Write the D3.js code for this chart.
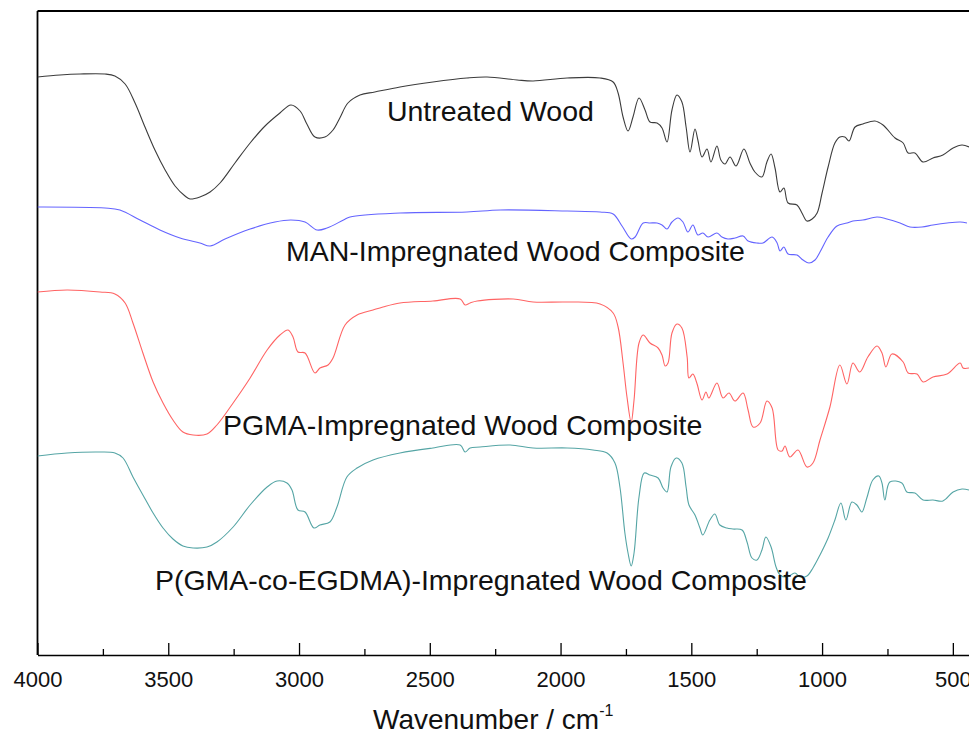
<!DOCTYPE html>
<html>
<head>
<meta charset="utf-8">
<script src="https://cdn.jsdelivr.net/npm/d3@7"></script>
<style>
  body { margin: 0; background: #fff; }
  svg { display: block; }
</style>
</head>
<body>
<script>
'use strict';

// wavenumbers (cm-1) and relative transmittance (a.u.)
const untreatedWn = [4000, 3914, 3837, 3742, 3704, 3665, 3627, 3589, 3551, 3512, 3474, 3436, 3417, 3379, 3340, 3302, 3245, 3187, 3130, 3073, 3031, 2996, 2970, 2939, 2901, 2870, 2844, 2813, 2767, 2710, 2614, 2488, 2358, 2281, 2166, 2105, 1975, 1849, 1799, 1780, 1761, 1742, 1723, 1700, 1677, 1658, 1631, 1612, 1593, 1574, 1555, 1536, 1520, 1505, 1486, 1475, 1459, 1440, 1425, 1402, 1387, 1371, 1352, 1329, 1299, 1276, 1257, 1230, 1211, 1195, 1180, 1161, 1146, 1130, 1096, 1077, 1058, 1038, 1019, 1000, 977, 951, 932, 913, 897, 874, 844, 798, 767, 721, 690, 671, 645, 614, 576, 538, 499, 465, 438];
const untreatedT = [578, 580, 581, 581, 579, 571, 552, 528, 505, 485, 469, 459, 456, 458, 463, 472, 492, 512, 529, 542, 550, 544, 531, 518, 518, 525, 537, 552, 560, 563, 568, 573, 577, 578, 575, 574, 577, 577, 573, 562, 538, 524, 538, 557, 545, 533, 532, 527, 513, 545, 560, 553, 528, 503, 526, 515, 498, 506, 493, 509, 495, 491, 498, 489, 506, 492, 483, 478, 493, 501, 487, 463, 467, 452, 450, 442, 434, 436, 442, 462, 488, 512, 518, 518, 514, 528, 531, 534, 530, 517, 512, 502, 502, 493, 497, 500, 507, 510, 508];

const manWn = [4000, 3742, 3685, 3608, 3532, 3455, 3379, 3340, 3283, 3187, 3092, 3031, 2977, 2931, 2893, 2830, 2805, 2614, 2358, 2231, 1975, 1849, 1799, 1765, 1730, 1715, 1684, 1658, 1631, 1612, 1593, 1574, 1551, 1532, 1513, 1494, 1475, 1456, 1436, 1402, 1383, 1360, 1333, 1302, 1283, 1249, 1226, 1191, 1172, 1161, 1146, 1130, 1096, 1073, 1050, 1027, 1008, 977, 943, 905, 882, 844, 790, 752, 702, 664, 618, 576, 522, 472, 446];
const manT = [448, 447, 445, 435, 425, 417, 412, 409, 416, 426, 433, 435, 433, 425, 427, 435, 438, 442, 443, 445, 444, 443, 441, 429, 416, 418, 432, 432, 432, 430, 426, 433, 437, 433, 423, 430, 420, 422, 418, 422, 418, 416, 417, 419, 414, 412, 412, 418, 412, 404, 408, 401, 400, 395, 392, 395, 403, 418, 429, 432, 434, 435, 438, 436, 432, 428, 428, 430, 432, 433, 432];

const pgmaWn = [4000, 3887, 3761, 3704, 3665, 3635, 3597, 3558, 3520, 3482, 3444, 3405, 3352, 3314, 3252, 3187, 3122, 3073, 3042, 3023, 3004, 2977, 2939, 2920, 2889, 2870, 2824, 2778, 2717, 2679, 2614, 2488, 2384, 2365, 2346, 2319, 2181, 2105, 1975, 1849, 1799, 1780, 1761, 1746, 1730, 1719, 1700, 1684, 1658, 1627, 1612, 1600, 1589, 1574, 1555, 1536, 1516, 1509, 1494, 1479, 1459, 1444, 1433, 1402, 1379, 1356, 1333, 1302, 1283, 1264, 1237, 1211, 1191, 1168, 1153, 1142, 1123, 1092, 1058, 1035, 1008, 970, 932, 905, 882, 856, 825, 790, 771, 756, 733, 690, 671, 637, 614, 576, 522, 472, 461, 438];
const pgmaT = [363, 365, 363, 361, 352, 332, 302, 273, 252, 235, 223, 220, 221, 230, 252, 277, 305, 320, 325, 318, 303, 302, 282, 287, 290, 297, 330, 340, 345, 348, 352, 354, 356, 350, 352, 354, 356, 353, 353, 351, 342, 328, 292, 258, 233, 255, 312, 320, 312, 307, 300, 289, 292, 322, 331, 327, 298, 277, 281, 272, 255, 263, 257, 272, 257, 262, 254, 262, 245, 228, 232, 254, 247, 205, 204, 209, 198, 205, 188, 192, 215, 248, 290, 271, 292, 283, 298, 309, 302, 288, 301, 293, 282, 281, 273, 278, 281, 292, 287, 287];

const copolyWn = [4000, 3887, 3761, 3704, 3673, 3635, 3597, 3558, 3520, 3482, 3444, 3405, 3352, 3314, 3252, 3187, 3122, 3084, 3046, 3027, 3004, 2977, 2943, 2920, 2882, 2855, 2817, 2778, 2717, 2614, 2488, 2384, 2365, 2346, 2308, 2193, 2105, 1975, 1876, 1822, 1792, 1773, 1754, 1742, 1730, 1719, 1700, 1680, 1658, 1627, 1608, 1593, 1578, 1558, 1536, 1520, 1509, 1486, 1467, 1456, 1429, 1410, 1391, 1364, 1341, 1306, 1287, 1268, 1249, 1230, 1215, 1195, 1176, 1161, 1134, 1104, 1084, 1058, 1035, 1008, 977, 951, 928, 909, 886, 867, 848, 829, 806, 783, 771, 760, 741, 695, 676, 645, 614, 576, 538, 499, 465, 438];
const copolyT = [199, 202, 203, 202, 197, 178, 160, 142, 127, 116, 109, 107, 108, 113, 128, 150, 168, 174, 172, 165, 145, 143, 127, 130, 133, 148, 178, 187, 195, 202, 207, 210, 203, 207, 208, 210, 207, 207, 205, 202, 192, 168, 122, 102, 89, 102, 158, 182, 180, 177, 167, 163, 188, 197, 192, 168, 150, 140, 127, 120, 135, 141, 130, 127, 126, 125, 113, 97, 95, 105, 118, 108, 88, 80, 78, 82, 78, 79, 87, 100, 117, 135, 152, 135, 153, 150, 143, 157, 175, 179, 172, 155, 173, 172, 163, 162, 155, 155, 154, 163, 166, 165];

const majorTicks = [4000, 3500, 3000, 2500, 2000, 1500, 1000, 500];
const minorTicks = [3750, 3250, 2750, 2250, 1750, 1250, 750];

const seriesNames = ['Untreated Wood', 'MAN-Impregnated Wood Composite', 'PGMA-Impregnated Wood Composite', 'P(GMA-co-EGDMA)-Impregnated Wood Composite'];
const seriesColors = ['#3c3c3c', '#6464ff', '#ff6464', '#55a5a5'];
const seriesWn = [untreatedWn, manWn, pgmaWn, copolyWn];
const seriesT = [untreatedT, manT, pgmaT, copolyT];

// label anchors: [wavenumber, transmittance] of each label's left baseline
const labelWn = [2664, 3050, 3291, 3551];
const labelT = [534, 394, 220, 65];

(function() {

  let svgContainer = '';

  const width = 969;
  const height = 734;
  const left = 37.5;
  const top = 11;
  const bottom = 655;
  const right = 979;
  const font = "'Liberation Sans', Arial, sans-serif";

  window.onload = function() {
    svgContainer = d3.select('body')
      .append('svg')
      .attr('width', width)
      .attr('height', height)
      .style('background', '#fff');

    let scales = drawAxes();
    plotSpectra(scales);
    makeLabels(scales);
  };

  // draw frame and bottom axis with inward ticks
  function drawAxes() {
    let xScale = d3.scaleLinear()
      .domain([4000, 400])
      .range([left, right]);

    let yScale = d3.scaleLinear()
      .domain([0, bottom - top])
      .range([bottom, top]);

    // minor ticks, no labels
    svgContainer.append('g')
      .attr('transform', 'translate(0,' + bottom + ')')
      .call(d3.axisBottom(xScale).tickValues(minorTicks).tickSize(-6).tickFormat(''))
      .call(g => g.select('.domain').remove())
      .selectAll('line').attr('stroke-width', 1.3);

    let xAxis = d3.axisBottom(xScale)
      .tickValues(majorTicks)
      .tickFormat(d3.format('d'))
      .tickSizeInner(-12)
      .tickSizeOuter(0)
      .tickPadding(16);

    let axisG = svgContainer.append('g')
      .attr('transform', 'translate(0,' + bottom + ')')
      .call(xAxis);
    axisG.select('.domain').attr('stroke-width', 1.6);
    axisG.selectAll('line').attr('stroke-width', 1.3);
    axisG.selectAll('text')
      .style('font-family', font)
      .style('font-size', '22px')
      .attr('fill', '#111');

    // left and top border
    svgContainer.append('line')
      .attr('x1', left).attr('x2', left)
      .attr('y1', top).attr('y2', bottom)
      .attr('stroke', '#000').attr('stroke-width', 1.8);
    svgContainer.append('line')
      .attr('x1', left).attr('x2', right)
      .attr('y1', top).attr('y2', top)
      .attr('stroke', '#000').attr('stroke-width', 1.8);

    // axis title
    let title = svgContainer.append('text')
      .attr('x', 373)
      .attr('y', 729)
      .style('font-family', font)
      .style('font-size', '28px')
      .attr('fill', '#111')
      .text('Wavenumber / cm');
    title.append('tspan')
      .attr('dy', -13)
      .style('font-size', '16px')
      .text('-1');

    return { x: xScale, y: yScale };
  }

  // one line per spectrum
  function plotSpectra(scales) {
    svgContainer.append('clipPath')
      .attr('id', 'plotClip')
      .append('rect')
      .attr('x', left).attr('y', top)
      .attr('width', right - left).attr('height', bottom - top);

    let line = d3.line()
      .x(d => scales.x(d[0]))
      .y(d => scales.y(d[1]))
      .curve(d3.curveCatmullRom.alpha(0.5));

    let spectra = seriesWn.map((wn, i) => wn.map((w, j) => [w, seriesT[i][j]]));

    svgContainer.append('g')
      .attr('clip-path', 'url(#plotClip)')
      .selectAll('path')
      .data(spectra)
      .enter()
      .append('path')
        .attr('d', line)
        .attr('fill', 'none')
        .attr('stroke', (d, i) => seriesColors[i])
        .attr('stroke-width', 1.1);
  }

  // series labels placed beside their curves
  function makeLabels(scales) {
    svgContainer.selectAll('.seriesLabel')
      .data(seriesNames)
      .enter()
      .append('text')
        .attr('class', 'seriesLabel')
        .attr('x', (d, i) => scales.x(labelWn[i]))
        .attr('y', (d, i) => scales.y(labelT[i]))
        .style('font-family', font)
        .style('font-size', '28.5px')
        .attr('fill', '#111')
        .text(d => d);
  }

})();
</script>
</body>
</html>
